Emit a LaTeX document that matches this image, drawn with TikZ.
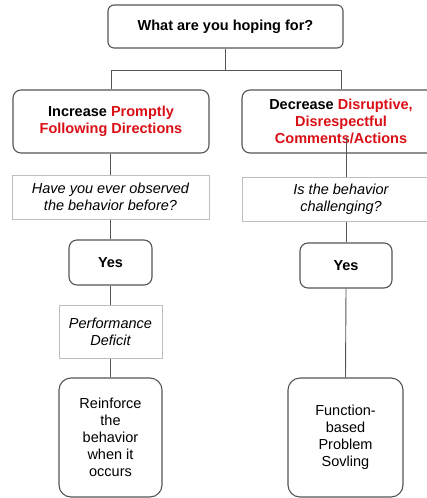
\documentclass[tikz,border=0pt]{standalone}
\usepackage{fontspec}
\setmainfont{Liberation Sans}
\begin{document}
\definecolor{hl}{RGB}{218,16,22}
\definecolor{edge}{RGB}{85,85,85}
\definecolor{pale}{RGB}{190,190,190}
\begin{tikzpicture}[x=1pt,y=-1pt,
  every node/.style={font=\fontsize{14.5}{17}\selectfont, align=center, inner sep=0pt},
  rbox/.style={draw=edge, line width=1.1pt, rounded corners=8pt, fill=white},
  qbox/.style={draw=pale, line width=1pt, fill=white, font=\fontsize{14.5}{17}\selectfont\itshape},
  link/.style={draw=edge, line width=0.9pt}]
\useasboundingbox (0,0) rectangle (427,498);
\clip (0,0) rectangle (427,498);

% connectors first, boxes on top
\coordinate (bus) at (0,70);
\coordinate (rtail) at (346,137);

% top level
\node[rbox, minimum width=235pt, minimum height=43pt, rounded corners=6pt] (top) at (225.5,26.5) {\bfseries What are you hoping for?};

% the two goals
\node[rbox, minimum width=196pt, minimum height=63pt] (inc) at (111,121.5)
  {\bfseries Increase \textcolor{hl}{Promptly}\\\bfseries\textcolor{hl}{Following Directions}};
\node[rbox, minimum width=198pt, minimum height=63pt] (dec) at (341,121.5)
  {\bfseries Decrease \textcolor{hl}{Disruptive,}\\\bfseries\textcolor{hl}{Disrespectful}\\\bfseries\textcolor{hl}{Comments/Actions}};

\draw[link] (top.south) -- (top.south |- bus);
\draw[link] (inc.north) -- (inc.north |- bus) -- (dec.north |- bus) -- (dec.north);

% left branch
\node[qbox, minimum width=197pt, minimum height=44pt] (lq) at (110.5,197) {Have you ever observed\\the behavior before?};
\node[rbox, minimum width=83pt, minimum height=45pt] (lyes) at (110.5,262.5) {\bfseries Yes};
\node[qbox, minimum width=103pt, minimum height=53pt] (perf) at (110.5,331.5) {Performance\\Deficit};
\node[rbox, minimum width=103pt, minimum height=119pt, rounded corners=12pt] (reinf) at (110.5,437.5)
  {\fontsize{14.5}{17.5}\selectfont Reinforce\\the\\behavior\\when it\\occurs};

\draw[link] (inc.south -| lq.north) -- (lq.north);
\draw[link] (lq.south) -- (lyes.north);
\draw[link] (lyes.south) -- (perf.north);
\draw[link] (perf.south) -- (reinf.north);

% right branch
\node[qbox, minimum width=198pt, minimum height=44pt] (rq) at (341,199) {Is the behavior\\challenging?};
\node[rbox, minimum width=92pt, minimum height=45pt] (ryes) at (346,265.5) {\bfseries Yes};
\node[rbox, minimum width=115pt, minimum height=119pt, rounded corners=12pt] (func) at (345.5,437.5)
  {\fontsize{14.5}{17.5}\selectfont Function-\\based\\Problem\\Sovling};

\draw[link] (rtail) -- (rtail |- rq.north);
\draw[link] (ryes.north |- rq.south) -- (ryes.north);
\draw[link] (ryes.south) -- (func.north);
\end{tikzpicture}
\end{document}
